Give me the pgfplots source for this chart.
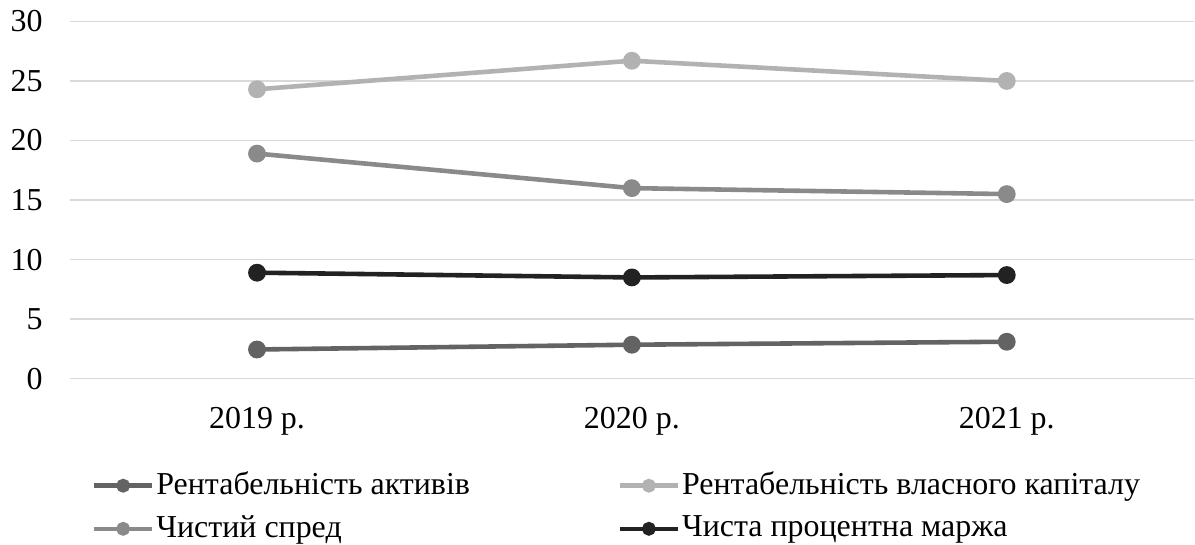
\documentclass[border=0pt]{standalone}
\usepackage{pgfplots}
\pgfplotsset{compat=1.18}
\usepackage{fontspec}
\setmainfont{Liberation Serif}
\definecolor{cROA}{HTML}{636363}
\definecolor{cROE}{HTML}{B2B2B2}
\definecolor{cSpr}{HTML}{8A8A8A}
\definecolor{cNIM}{HTML}{222222}
\definecolor{cGrid}{HTML}{D9D9D9}
\begin{document}
\fontsize{16}{19}\selectfont
\begin{tikzpicture}
\begin{axis}[
  scale only axis,
  width=563.5pt, height=179pt,
  xmin=-0.5, xmax=2.5, ymin=0, ymax=30,
  xtick={0,1,2}, xticklabels={2019 р.,2020 р.,2021 р.},
  ytick={0,5,10,15,20,25,30},
  axis line style={draw=none},
  major tick length=0pt,
  ymajorgrids,
  grid style={cGrid, line width=0.8pt},
  tick label style={font=\fontsize{16}{19}\selectfont},
  /pgf/number format/assume math mode=true,
  xticklabel style={yshift=-9pt},
  yticklabel style={xshift=-8pt},
  every axis plot/.append style={line width=2.3pt, mark=*, mark size=3.3pt},
  legend columns=2,
  legend cell align=left,
  legend style={draw=none, fill=none, inner sep=0pt,
    at={(axis description cs:0,0)}, anchor=north west,
    xshift=11pt, yshift=-45.5pt,
    font=\fontsize{16}{19}\selectfont,
    nodes={inner sep=1pt},
    row sep=6pt,
    /tikz/every even column/.append style={column sep=73pt}},
  legend image code/.code={
    \draw[#1, mark repeat=2, mark phase=2, mark size=2.3pt] plot coordinates {(0pt,0pt) (14.5pt,0pt) (29pt,0pt)};
  },
]
\addplot[color=cROA] coordinates {(0,2.45) (1,2.85) (2,3.1)};
\addlegendentry{Рентабельність активів}
\addplot[color=cROE] coordinates {(0,24.3) (1,26.7) (2,25.0)};
\addlegendentry{Рентабельність власного капіталу}
\addplot[color=cSpr] coordinates {(0,18.9) (1,16.0) (2,15.5)};
\addlegendentry{Чистий спред}
\addplot[color=cNIM] coordinates {(0,8.9) (1,8.5) (2,8.7)};
\addlegendentry{Чиста процентна маржа}
\end{axis}
\end{tikzpicture}
\end{document}
